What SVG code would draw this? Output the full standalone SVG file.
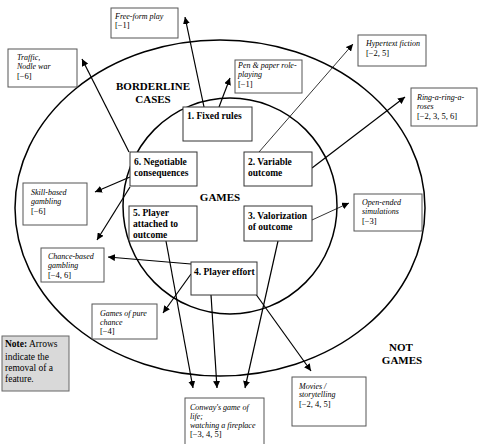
<svg xmlns="http://www.w3.org/2000/svg" width="482" height="444" viewBox="0 0 482 444">
<style>
.ell{fill:none;stroke:#000;stroke-width:1.5}
.box{fill:#fff;stroke:#555;stroke-width:1}
.nbox{fill:#fff;stroke:#333;stroke-width:1}
text{font-family:'Liberation Serif','Times New Roman','DejaVu Serif',serif;fill:#000}
.lbl{font-size:8px;font-style:italic}
.br{font-size:8.5px}
.num{font-size:9.5px;font-weight:bold}
.big{font-size:11px;font-weight:bold;text-anchor:middle}
.note{font-size:9.5px}
.c{fill:none;stroke:#000;stroke-width:1.2}
.t{fill:none;stroke:#000;stroke-width:0.8}
</style>
<defs>
<marker id="ah" viewBox="0 0 10 10" refX="10" refY="5" markerWidth="7" markerHeight="7" markerUnits="userSpaceOnUse" orient="auto">
<path d="M0,0 L10,5 L0,10 z" fill="#000"/>
</marker>
</defs>
<rect width="482" height="444" fill="#fff"/>
<g id="regions">
<ellipse class="ell" cx="220" cy="208" rx="205" ry="168"/>
<ellipse class="ell" cx="230" cy="206" rx="107" ry="108"/>
<text class="big" x="153" y="90">BORDERLINE</text>
<text class="big" x="153" y="103">CASES</text>
<text class="big" x="220" y="201">GAMES</text>
<text class="big" x="401" y="351">NOT</text>
<text class="big" x="402" y="364">GAMES</text>
</g>
<g id="connectors">
<line class="c" x1="204" y1="107" x2="185" y2="17" marker-end="url(#ah)"/>
<line class="c" x1="219" y1="107" x2="230" y2="78" marker-end="url(#ah)"/>
<line class="c" x1="129" y1="152" x2="82" y2="59" marker-end="url(#ah)"/>
<line class="c" x1="130" y1="177" x2="95" y2="192" marker-end="url(#ah)"/>
<line class="c" x1="130" y1="187" x2="97" y2="240" marker-end="url(#ah)"/>
<line class="c" x1="191" y1="264" x2="108" y2="257" marker-end="url(#ah)"/>
<line class="c" x1="191" y1="274" x2="163" y2="313" marker-end="url(#ah)"/>
<line class="c" x1="166" y1="241" x2="193" y2="388" marker-end="url(#ah)"/>
<line class="c" x1="211" y1="295" x2="217" y2="388" marker-end="url(#ah)"/>
<line class="c" x1="278" y1="241" x2="245" y2="388" marker-end="url(#ah)"/>
<line class="c" x1="255" y1="293" x2="311" y2="371" marker-end="url(#ah)"/>
<line class="t" x1="259" y1="152" x2="353" y2="44" marker-end="url(#ah)"/>
<line class="c" x1="312" y1="168" x2="405" y2="97" marker-end="url(#ah)"/>
<line class="t" x1="312" y1="220" x2="349" y2="203" marker-end="url(#ah)"/>
</g>
<g id="free-form-play">
<rect class="box" x="111" y="8" width="67" height="30"/>
<text class="lbl" x="115" y="19">Free-form play</text>
<text class="br" x="115" y="28">[−1]</text>
</g>
<g id="traffic">
<rect class="box" x="8" y="49" width="69" height="38"/>
<text class="lbl" x="17" y="60">Traffic,</text>
<text class="lbl" x="17" y="69">Nodle war</text>
<text class="br" x="17" y="79">[−6]</text>
</g>
<g id="pen-paper">
<rect class="box" x="235" y="60" width="67" height="33"/>
<text class="lbl" x="238" y="68">Pen &amp; paper role-</text>
<text class="lbl" x="238" y="77">playing</text>
<text class="br" x="238" y="87">[−1]</text>
</g>
<g id="hypertext">
<rect class="box" x="358" y="35" width="68" height="31"/>
<text class="lbl" x="366" y="46">Hypertext fiction</text>
<text class="br" x="366" y="56">[−2, 5]</text>
</g>
<g id="ring">
<rect class="box" x="411" y="88" width="66" height="38"/>
<text class="lbl" x="417" y="100">Ring-a-ring-a-</text>
<text class="lbl" x="417" y="109">roses</text>
<text class="br" x="417" y="119">[−2, 3, 5, 6]</text>
</g>
<g id="open-ended">
<rect class="box" x="354" y="194" width="68" height="37"/>
<text class="lbl" x="362" y="205">Open-ended</text>
<text class="lbl" x="362" y="214">simulations</text>
<text class="br" x="362" y="224">[−3]</text>
</g>
<g id="skill-based">
<rect class="box" x="23" y="183" width="64" height="42"/>
<text class="lbl" x="31" y="195">Skill-based</text>
<text class="lbl" x="31" y="204">gambling</text>
<text class="br" x="31" y="214">[−6]</text>
</g>
<g id="chance-based">
<rect class="box" x="41" y="248" width="63" height="34"/>
<text class="lbl" x="48" y="259">Chance-based</text>
<text class="lbl" x="48" y="268">gambling</text>
<text class="br" x="48" y="278">[−4, 6]</text>
</g>
<g id="pure-chance">
<rect class="box" x="92" y="304" width="65" height="35"/>
<text class="lbl" x="100" y="316">Games of pure</text>
<text class="lbl" x="100" y="325">chance</text>
<text class="br" x="100" y="334">[−4]</text>
</g>
<g id="conway">
<rect class="box" x="185" y="398" width="79" height="50"/>
<text class="lbl" x="190" y="410">Conway's game of</text>
<text class="lbl" x="190" y="419">life;</text>
<text class="lbl" x="190" y="428">watching a fireplace</text>
<text class="br" x="190" y="437">[−3, 4, 5]</text>
</g>
<g id="movies">
<rect class="box" x="292" y="377" width="74" height="49"/>
<text class="lbl" x="299" y="389">Movies /</text>
<text class="lbl" x="299" y="397">storytelling</text>
<text class="br" x="299" y="407">[−2, 4, 5]</text>
</g>
<g id="f1">
<rect class="nbox" x="183" y="107" width="69" height="34"/>
<text class="num" x="187" y="119">1. Fixed rules</text>
</g>
<g id="f2">
<rect class="nbox" x="244" y="152" width="68" height="34"/>
<text class="num" x="248" y="164.5">2. Variable</text>
<text class="num" x="248" y="175.5">outcome</text>
</g>
<g id="f3">
<rect class="nbox" x="244" y="206" width="68" height="35"/>
<text class="num" x="248" y="218.5">3. Valorization</text>
<text class="num" x="248" y="229.5">of outcome</text>
</g>
<g id="f4">
<rect class="nbox" x="191" y="262" width="66" height="33"/>
<text class="num" x="194" y="274.5">4. Player effort</text>
</g>
<g id="f5">
<rect class="nbox" x="129" y="206" width="68" height="35"/>
<text class="num" x="133" y="215.5">5. Player</text>
<text class="num" x="133" y="226.5">attached to</text>
<text class="num" x="133" y="238">outcome</text>
</g>
<g id="f6">
<rect class="nbox" x="130" y="152" width="67" height="34"/>
<text class="num" x="134" y="164.5">6. Negotiable</text>
<text class="num" x="134" y="175.5">consequences</text>
</g>
<g id="note">
<rect x="2" y="336" width="67" height="55" fill="#d9d9d9" stroke="#666" stroke-width="1"/>
<text class="note" x="5" y="347"><tspan font-weight="bold">Note:</tspan> Arrows</text>
<text class="note" x="5" y="360">indicate the</text>
<text class="note" x="5" y="371">removal of a</text>
<text class="note" x="5" y="382">feature.</text>
</g>
</svg>
